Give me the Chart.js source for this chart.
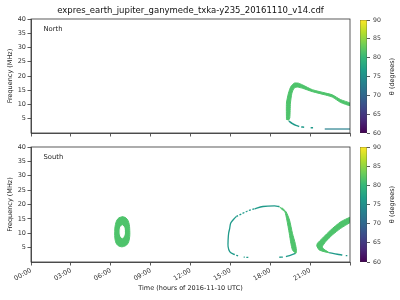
<!DOCTYPE html>
<html>
<head>
<meta charset="utf-8">
<script src="https://cdn.jsdelivr.net/npm/chart.js@4"></script>
<style>
html, body { margin: 0; padding: 0; background: #fff; }
#wrap { position: relative; width: 400px; height: 300px; }
#wrap div { position: absolute; }
</style>
</head>
<body>
<div id="wrap">
  <div style="left:0;top:0;width:360px;height:140px"><canvas id="north"></canvas></div>
  <div style="left:0;top:140px;width:360px;height:160px"><canvas id="south"></canvas></div>
  <div style="left:355px;top:0;width:45px;height:140px"><canvas id="cbNorth"></canvas></div>
  <div style="left:355px;top:140px;width:45px;height:160px"><canvas id="cbSouth"></canvas></div>
</div>
<script>
// hour ticks and theta colorbar range
const hourTicks = [0, 3, 6, 9, 12, 15, 18, 21, 24];
const thetaRange = [60, 90];

// North hemisphere: main emission band (outline, hours / MHz)
const northBandHours = [19.22, 19.22, 19.37, 19.55, 19.8, 20.12, 20.42, 21.17, 22.18, 22.67, 23.3, 24,
                        24, 23.3, 22.67, 22.18, 21.17, 20.42, 20.05, 19.8, 19.63, 19.52, 19.47, 19.37];
const northBandFreqs = [4.65, 10.5, 14.0, 16.3, 17.5, 17.5, 16.9, 15.2, 14.0, 13.4, 11.7, 10.5,
                        9.6, 10.7, 12.6, 13.3, 14.5, 15.7, 16.1, 15.75, 14.0, 10.5, 5.25, 4.4];
// thin low frequency tail (null = gap)
const northTailHours = [19.4, 19.67, 19.93, 20.18, 20.25, 20.33, 20.55, 20.8, 21.04, 21.22];
const northTailFreqs = [4.2, 3.26, 2.66, 2.3, null, 2.1, 2.05, null, 1.85, 1.85];
const northFloorHours = [22.1, 24];
const northFloorFreqs = [1.4, 1.4];

// South hemisphere: ring around 07:00
const ringOuterHours = [6.88, 7.15, 7.35, 7.43, 7.4, 7.25, 6.95, 6.7, 6.45, 6.32, 6.3, 6.35, 6.55, 6.88];
const ringOuterFreqs = [15.8, 15.3, 13.8, 11.0, 8.0, 6.2, 5.35, 5.4, 6.2, 8.0, 10.5, 13.0, 15.1, 15.8];
const ringInnerHours = [6.87, 6.98, 7.03, 6.98, 6.87, 6.75, 6.7, 6.75, 6.87];
const ringInnerFreqs = [12.7, 12.2, 10.5, 9.0, 8.4, 9.0, 10.5, 12.2, 12.7];

// South: big arc, thin left/top part
const southArcHours = [16.35, 16.0, 15.9, 15.58, 15.2, 14.95, 14.83, 14.83, 14.87, 14.95, 15.02, 15.2, 15.45,
                       15.83, 16.33, 16.82, 17.45, 18.32, 18.68];
const southArcFreqs = [1.6, 1.68, null, 2.1, 2.8, 3.6, 5.3, 7.7, 10.0, 11.7, 13.5, 14.6, 15.8,
                       16.7, 17.8, 18.5, 19.3, 19.5, 19.3];
// South: big arc, thick right band (outline)
const southBandHours = [18.68, 18.92, 19.1, 19.25, 19.43, 19.55, 19.67, 19.93, 19.97, 19.88, 19.67, 19.45, 19.2, 18.9];
const southBandFreqs = [19.3, 18.1, 17.5, 14.6, 10.0, 6.5, 4.2, 3.0, 4.2, 6.5, 10.0, 14.6, 17.4, 18.8];
const southBandTailHours = [19.9, 19.55, 19.18, 19.1, 18.95, 18.68];
const southBandTailFreqs = [3.0, 2.4, 1.9, null, 1.7, 1.65];

// South: wedge after 21:00 (outline)
const southWedgeHours = [24, 23.3, 22.55, 21.92, 21.55, 21.5, 21.68, 22.05, 22.43, 22.05, 21.92, 22.18, 22.67, 23.3, 24];
const southWedgeFreqs = [15.6, 14.0, 11.15, 8.26, 6.5, 5.6, 4.2, 3.6, 3.24, 4.4, 5.3, 7.1, 9.4, 11.7, 13.7];
const southWedgeTailHours = [22.43, 23.05, 23.42, 23.55, 23.68, 23.8];
const southWedgeTailFreqs = [3.24, 2.7, 2.44, null, 2.2, 2.2];

const GREEN = '#4ec36b';
const TEAL = '#1f9a8a';
const DARKTEAL = '#27808e';
const AXIS = '#333';
const viridis = ['#440154', '#482878', '#3e4989', '#31688e', '#26828e', '#1f9e89', '#35b779', '#6ece58', '#b5de2b', '#fde725'];

Chart.defaults.font.family = 'DejaVu Sans';
Chart.defaults.color = AXIS;

function pts(hours, freqs) {
    return hours.map((h, i) => ({ x: h, y: freqs[i] }));
}

function band(hours, freqs, color, tension) {
    return { data: pts(hours, freqs), borderColor: color, backgroundColor: color, borderWidth: 1,
             fill: 'shape', tension: tension || 0.2, pointRadius: 0 };
}

function track(hours, freqs, color, width) {
    return { data: pts(hours, freqs), borderColor: color, borderWidth: width || 1.5,
             fill: false, tension: 0.3, pointRadius: 0, spanGaps: false };
}

// box round the plot area + panel name
const framePlugin = {
    id: 'frame',
    afterDraw(chart, args, opts) {
        const { ctx, chartArea: a } = chart;
        ctx.save();
        ctx.strokeStyle = AXIS;
        ctx.lineWidth = 0.8;
        ctx.strokeRect(a.left, a.top, a.width, a.height);
        ctx.fillStyle = '#222';
        ctx.font = '6.8px "DejaVu Sans"';
        ctx.textBaseline = 'middle';
        ctx.fillText(opts.label, a.left + 12.5, a.top + 10);
        ctx.restore();
    }
};

function hourLabel(v) {
    if (v >= 24) return '';
    return (v < 10 ? '0' : '') + v + ':00';
}

function panelOptions(label, showX, extra) {
    return {
        responsive: true,
        maintainAspectRatio: false,
        animation: false,
        layout: { padding: extra.padding },
        plugins: {
            legend: { display: false },
            tooltip: { enabled: false },
            title: extra.title || { display: false },
            frame: { label: label }
        },
        scales: {
            x: {
                type: 'linear', min: hourTicks[0], max: hourTicks[hourTicks.length - 1],
                afterBuildTicks: s => { s.ticks = hourTicks.map(v => ({ value: v })); },
                afterFit: s => { s.height = extra.xHeight; },
                grid: { drawOnChartArea: false, color: AXIS, lineWidth: 0.8, tickLength: 3.5 },
                border: { color: AXIS, width: 0.8 },
                ticks: { display: showX, font: { size: 6.5 }, color: AXIS, padding: 1,
                         maxRotation: 30, minRotation: 30, autoSkip: false, callback: hourLabel },
                title: { display: showX, text: 'Time (hours of 2016-11-10 UTC)', font: { size: 6.5 },
                         color: '#222', padding: { top: 0, bottom: 4 } }
            },
            y: {
                min: 0, max: 40,
                afterBuildTicks: s => { s.ticks = s.ticks.filter(t => t.value !== 0); },
                afterFit: s => { s.width = 31; },
                grid: { drawOnChartArea: false, color: AXIS, lineWidth: 0.8, tickLength: 3.5 },
                border: { color: AXIS, width: 0.8 },
                ticks: { stepSize: 5, font: { size: 6.5 }, color: AXIS, padding: 1.5 },
                title: { display: true, text: 'Frequency (MHz)', font: { size: 6.5 }, color: '#222',
                         padding: { top: 6, bottom: 0 } }
            }
        }
    };
}

new Chart(document.getElementById('north'), {
    type: 'line',
    data: {
        datasets: [
            band(northBandHours, northBandFreqs, GREEN),
            track(northTailHours, northTailFreqs, TEAL, 1.5),
            track(northFloorHours, northFloorFreqs, DARKTEAL, 1.2)
        ]
    },
    options: panelOptions('North', false, {
        padding: { top: 0, right: 10, left: 0, bottom: 0 },
        xHeight: 7,
        title: { display: true, fullSize: false, text: 'expres_earth_jupiter_ganymede_txka-y235_20161110_v14.cdf',
                 font: { size: 8.5, weight: 'normal' }, color: '#111', padding: { top: 6, bottom: 2.8 } }
    }),
    plugins: [framePlugin]
});

new Chart(document.getElementById('south'), {
    type: 'line',
    data: {
        datasets: [
            band(ringInnerHours, ringInnerFreqs, '#ffffff', 0.4),
            band(ringOuterHours, ringOuterFreqs, GREEN, 0.4),
            Object.assign(track(southArcHours, southArcFreqs, TEAL, 1.3), {
                segment: { borderDash: c => (c.p0.parsed.x > 15.4 && c.p1.parsed.x < 17) ? [2, 1.5] : undefined }
            }),
            band(southBandHours, southBandFreqs, GREEN),
            track(southBandTailHours, southBandTailFreqs, TEAL, 1.3),
            band(southWedgeHours, southWedgeFreqs, GREEN),
            track(southWedgeTailHours, southWedgeTailFreqs, TEAL, 1.3)
        ]
    },
    options: panelOptions('South', true, {
        padding: { top: 7, right: 10, left: 0, bottom: 4 },
        xHeight: 34
    }),
    plugins: [framePlugin]
});

// colorbar: one floating bar filled with viridis
const cbTitle = {
    id: 'cbTitle',
    afterDraw(chart) {
        const { ctx, chartArea: a } = chart;
        ctx.save();
        ctx.translate(37, (a.top + a.bottom) / 2);
        ctx.rotate(-Math.PI / 2);
        ctx.fillStyle = '#222';
        ctx.font = '6.5px "DejaVu Sans"';
        ctx.textAlign = 'center';
        ctx.textBaseline = 'middle';
        ctx.fillText('\u03b8 (degrees)', 0, 0);
        ctx.restore();
    }
};

function colorbar(id, padding) {
    new Chart(document.getElementById(id), {
        type: 'bar',
        data: {
            labels: [''],
            datasets: [{
                data: [thetaRange],
                backgroundColor: c => {
                    const area = c.chart.chartArea;
                    if (!area) return viridis[5];
                    const g = c.chart.ctx.createLinearGradient(0, area.bottom, 0, area.top);
                    viridis.forEach((col, i) => g.addColorStop(i / (viridis.length - 1), col));
                    return g;
                },
                borderColor: AXIS, borderWidth: 0.6, borderSkipped: false,
                barPercentage: 1, categoryPercentage: 1
            }]
        },
        options: {
            responsive: true, maintainAspectRatio: false, animation: false,
            layout: { padding: padding },
            plugins: { legend: { display: false }, tooltip: { enabled: false } },
            scales: {
                x: { display: false },
                y: {
                    position: 'right', min: thetaRange[0], max: thetaRange[1],
                    afterFit: s => { s.width = 33; },
                    grid: { drawOnChartArea: false, color: AXIS, lineWidth: 0.8, tickLength: 3 },
                    border: { display: false },
                    ticks: { stepSize: 5, font: { size: 6.2 }, color: AXIS, padding: 3 }
                }
            }
        },
        plugins: [cbTitle]
    });
}

colorbar('cbNorth', { left: 5, right: 0, top: 20, bottom: 7 });
colorbar('cbSouth', { left: 5, right: 0, top: 7, bottom: 38 });
</script>
</body>
</html>
